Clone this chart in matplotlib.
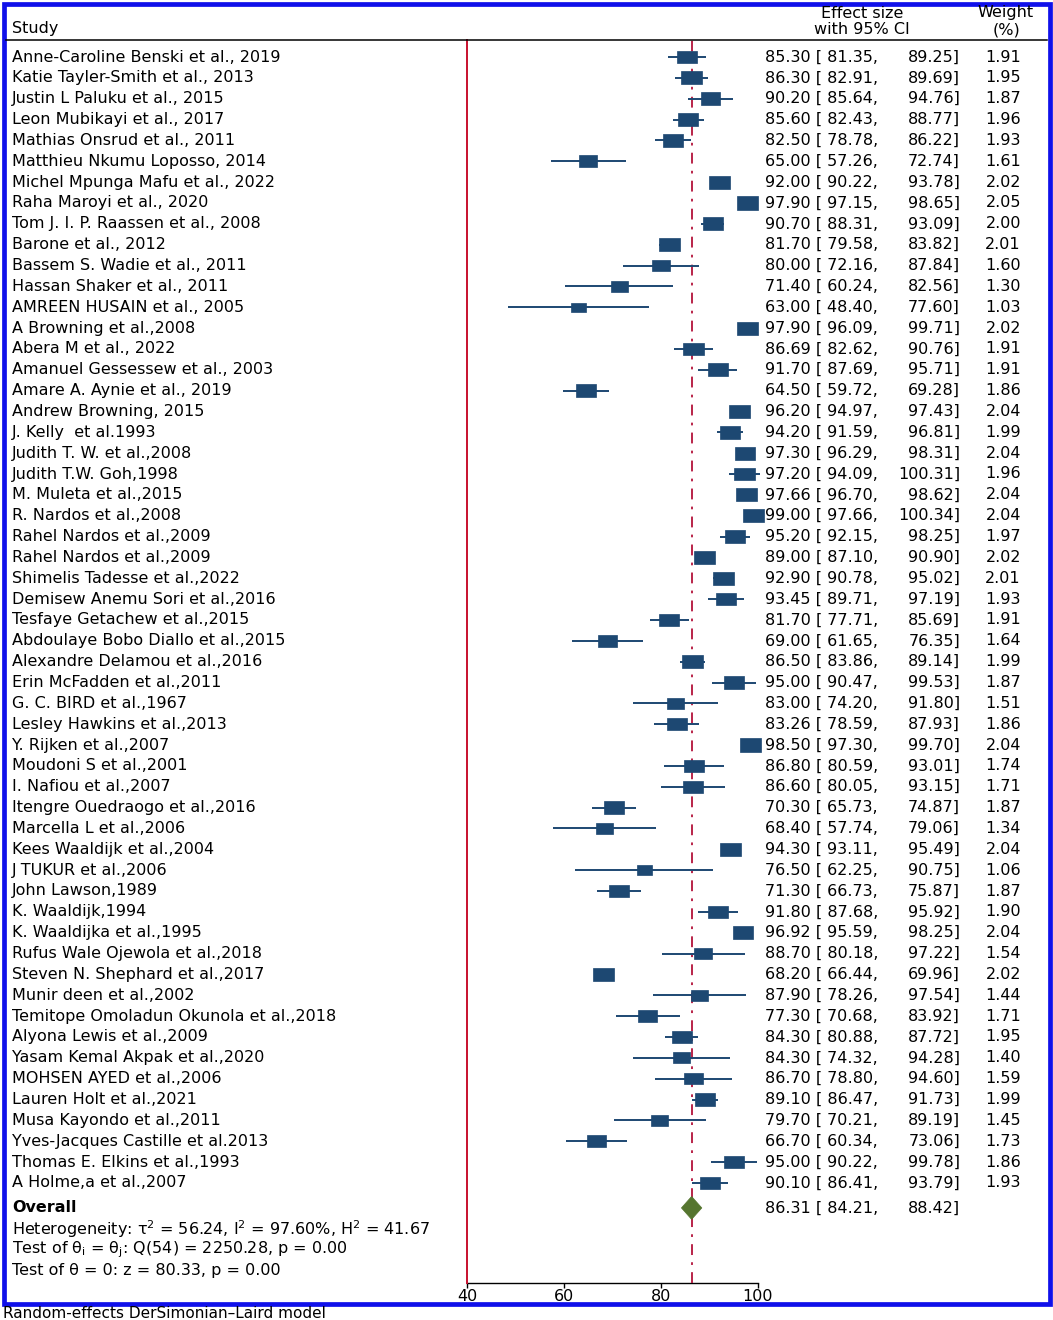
import matplotlib
matplotlib.use("Agg")
import matplotlib.pyplot as plt
import matplotlib.transforms as mtransforms
from matplotlib.patches import Rectangle, Polygon
from matplotlib.lines import Line2D
import numpy as np

# the reference font is a horizontally stretched Helvetica; DejaVu Sans is the
# closest width match among the installed families
plt.rcParams['font.family'] = ['DejaVu Sans']
plt.rcParams['mathtext.fontset'] = 'dejavusans'

# study data: effect size, 95% CI, weight (%)
studies = [
    "Anne-Caroline Benski et al., 2019", "Katie Tayler-Smith et al., 2013",
    "Justin L Paluku et al., 2015", "Leon Mubikayi et al., 2017",
    "Mathias Onsrud et al., 2011", "Matthieu Nkumu Loposso, 2014",
    "Michel Mpunga Mafu et al., 2022", "Raha Maroyi et al., 2020",
    "Tom J. I. P. Raassen et al., 2008", "Barone et al., 2012",
    "Bassem S. Wadie et al., 2011", "Hassan Shaker et al., 2011",
    "AMREEN HUSAIN et al., 2005", "A Browning et al.,2008",
    "Abera M et al., 2022", "Amanuel Gessessew et al., 2003",
    "Amare A. Aynie et al., 2019", "Andrew Browning, 2015",
    "J. Kelly  et al.1993", "Judith T. W. et al.,2008",
    "Judith T.W. Goh,1998", "M. Muleta et al.,2015",
    "R. Nardos et al.,2008", "Rahel Nardos et al.,2009",
    "Rahel Nardos et al.,2009", "Shimelis Tadesse et al.,2022",
    "Demisew Anemu Sori et al.,2016", "Tesfaye Getachew et al.,2015",
    "Abdoulaye Bobo Diallo et al.,2015", "Alexandre Delamou et al.,2016",
    "Erin McFadden et al.,2011", "G. C. BIRD et al.,1967",
    "Lesley Hawkins et al.,2013", "Y. Rijken et al.,2007",
    "Moudoni S et al.,2001", "I. Nafiou et al.,2007",
    "Itengre Ouedraogo et al.,2016", "Marcella L et al.,2006",
    "Kees Waaldijk et al.,2004", "J TUKUR et al.,2006",
    "John Lawson,1989", "K. Waaldijk,1994",
    "K. Waaldijka et al.,1995", "Rufus Wale Ojewola et al.,2018",
    "Steven N. Shephard et al.,2017", "Munir deen et al.,2002",
    "Temitope Omoladun Okunola et al.,2018", "Alyona Lewis et al.,2009",
    "Yasam Kemal Akpak et al.,2020", "MOHSEN AYED et al.,2006",
    "Lauren Holt et al.,2021", "Musa Kayondo et al.,2011",
    "Yves-Jacques Castille et al.2013", "Thomas E. Elkins et al.,1993",
    "A Holme,a et al.,2007",
]
effect = [85.30, 86.30, 90.20, 85.60, 82.50, 65.00, 92.00, 97.90, 90.70, 81.70,
          80.00, 71.40, 63.00, 97.90, 86.69, 91.70, 64.50, 96.20, 94.20, 97.30,
          97.20, 97.66, 99.00, 95.20, 89.00, 92.90, 93.45, 81.70, 69.00, 86.50,
          95.00, 83.00, 83.26, 98.50, 86.80, 86.60, 70.30, 68.40, 94.30, 76.50,
          71.30, 91.80, 96.92, 88.70, 68.20, 87.90, 77.30, 84.30, 84.30, 86.70,
          89.10, 79.70, 66.70, 95.00, 90.10]
lower = [81.35, 82.91, 85.64, 82.43, 78.78, 57.26, 90.22, 97.15, 88.31, 79.58,
         72.16, 60.24, 48.40, 96.09, 82.62, 87.69, 59.72, 94.97, 91.59, 96.29,
         94.09, 96.70, 97.66, 92.15, 87.10, 90.78, 89.71, 77.71, 61.65, 83.86,
         90.47, 74.20, 78.59, 97.30, 80.59, 80.05, 65.73, 57.74, 93.11, 62.25,
         66.73, 87.68, 95.59, 80.18, 66.44, 78.26, 70.68, 80.88, 74.32, 78.80,
         86.47, 70.21, 60.34, 90.22, 86.41]
upper = [89.25, 89.69, 94.76, 88.77, 86.22, 72.74, 93.78, 98.65, 93.09, 83.82,
         87.84, 82.56, 77.60, 99.71, 90.76, 95.71, 69.28, 97.43, 96.81, 98.31,
         100.31, 98.62, 100.34, 98.25, 90.90, 95.02, 97.19, 85.69, 76.35, 89.14,
         99.53, 91.80, 87.93, 99.70, 93.01, 93.15, 74.87, 79.06, 95.49, 90.75,
         75.87, 95.92, 98.25, 97.22, 69.96, 97.54, 83.92, 87.72, 94.28, 94.60,
         91.73, 89.19, 73.06, 99.78, 93.79]
weight = [1.91, 1.95, 1.87, 1.96, 1.93, 1.61, 2.02, 2.05, 2.00, 2.01,
          1.60, 1.30, 1.03, 2.02, 1.91, 1.91, 1.86, 2.04, 1.99, 2.04,
          1.96, 2.04, 2.04, 1.97, 2.02, 2.01, 1.93, 1.91, 1.64, 1.99,
          1.87, 1.51, 1.86, 2.04, 1.74, 1.71, 1.87, 1.34, 2.04, 1.06,
          1.87, 1.90, 2.04, 1.54, 2.02, 1.44, 1.71, 1.95, 1.40, 1.59,
          1.99, 1.45, 1.73, 1.86, 1.93]

overall = [86.31, 84.21, 88.42]
null_line = 40
xticks = [40, 60, 80, 100]
stats_lines = [
    r"Heterogeneity: τ$^2$ = 56.24, I$^2$ = 97.60%, H$^2$ = 41.67",
    r"Test of θ$_\mathrm{i}$ = θ$_\mathrm{j}$: Q(54) = 2250.28, p = 0.00",
    "Test of θ = 0: z = 80.33, p = 0.00",
]

W, H = 1053, 1320
fig = plt.figure(figsize=(W / 100, H / 100), dpi=100)

# forest panel (pixel frame of the reference)
ax_l, ax_r, ax_t, ax_b = 467, 758, 40, 1283
ax = fig.add_axes([ax_l / W, 1 - ax_b / H, (ax_r - ax_l) / W, (ax_b - ax_t) / H])
row0, row_h = 57, 20.85
ax.set_xlim(40, 100)
ax.set_ylim((ax_b - row0) / row_h, (ax_t - row0) / row_h)

box_col = '#1D4872'
n = len(studies)
ys = np.arange(n)
ax.hlines(ys, lower, upper, color=box_col, lw=1.4, clip_on=False, zorder=3)
for y, es, w in zip(ys, effect, weight):
    bw = 3.0 * np.sqrt(w)
    bh = 0.44 * np.sqrt(w)
    ax.add_patch(Rectangle((es - bw / 2, y - bh / 2), bw, bh, facecolor=box_col,
                           edgecolor=box_col, lw=0.5, clip_on=False, zorder=4))

y_ov = n + 0.2
dh = 0.55
ax.add_patch(Polygon([(overall[1], y_ov), (overall[0], y_ov - dh),
                      (overall[2], y_ov), (overall[0], y_ov + dh)],
                     closed=True, facecolor='#55752F', edgecolor='#55752F',
                     lw=0.5, zorder=5, clip_on=False))

ax.axvline(null_line, color='#C8102E', lw=1.4, zorder=2, clip_on=False)
ax.axvline(overall[0], color='#B3123A', lw=1.3, ls=(0, (6, 4, 1.5, 4)), zorder=2)

for s in ['top', 'right', 'left']:
    ax.spines[s].set_visible(False)
ax.spines['bottom'].set_linewidth(1.0)
ax.spines['bottom'].set_zorder(1)
ax.set_yticks([])
ax.set_xticks(xticks)
fs = 11.5
ax.tick_params(axis='x', direction='out', length=3.5, width=1.0, labelsize=fs, pad=1)

# text columns: x in figure pixels, y in row units
tr = mtransforms.blended_transform_factory(fig.transFigure, ax.transData)
def fx(px):
    return px / W

for y, name, es, lo, hi, w in zip(ys, studies, effect, lower, upper, weight):
    ax.text(fx(12), y, name, transform=tr, fontsize=fs, va='center', ha='left')
    ax.text(fx(765), y, f"{es:.2f} [ {lo:.2f},", transform=tr, fontsize=fs,
            va='center', ha='left')
    ax.text(fx(960), y, f"{hi:.2f}]", transform=tr, fontsize=fs, va='center', ha='right')
    ax.text(fx(1021), y, f"{w:.2f}", transform=tr, fontsize=fs, va='center', ha='right')

ax.text(fx(12), y_ov, "Overall", transform=tr, fontsize=fs, va='center',
        ha='left', fontweight='bold')
ax.text(fx(765), y_ov, f"{overall[0]:.2f} [ {overall[1]:.2f},", transform=tr,
        fontsize=fs, va='center', ha='left')
ax.text(fx(960), y_ov, f"{overall[2]:.2f}]", transform=tr, fontsize=fs,
        va='center', ha='right')
for k, line in enumerate(stats_lines):
    ax.text(fx(12), y_ov + 1 + k, line, transform=tr, fontsize=fs,
            va='center', ha='left')

# header
def fy(py):
    return 1 - py / H
fig.text(fx(12), fy(29), "Study", fontsize=fs, va='center', ha='left')
fig.text(fx(862), fy(13), "Effect size", fontsize=fs, va='center', ha='center')
fig.text(fx(862), fy(30), "with 95% CI", fontsize=fs, va='center', ha='center')
fig.text(fx(1006), fy(13), "Weight", fontsize=fs, va='center', ha='center')
fig.text(fx(1006), fy(30), "(%)", fontsize=fs, va='center', ha='center')
fig.add_artist(Line2D([fx(6), fx(1047)], [fy(39.5), fy(39.5)], color='black', lw=1.1))

# blue frame and footnote
fig.add_artist(Rectangle((fx(3.5), fy(1303.5)), (1049.5 - 3.5) / W, (1303.5 - 3.5) / H,
                         fill=False, edgecolor='#1010EA', lw=3.4))
fig.text(fx(3), fy(1318.5), "Random-effects DerSimonian\u2013Laird model", fontsize=11,
         va='baseline', ha='left')

fig.savefig("out.png", dpi=100)
